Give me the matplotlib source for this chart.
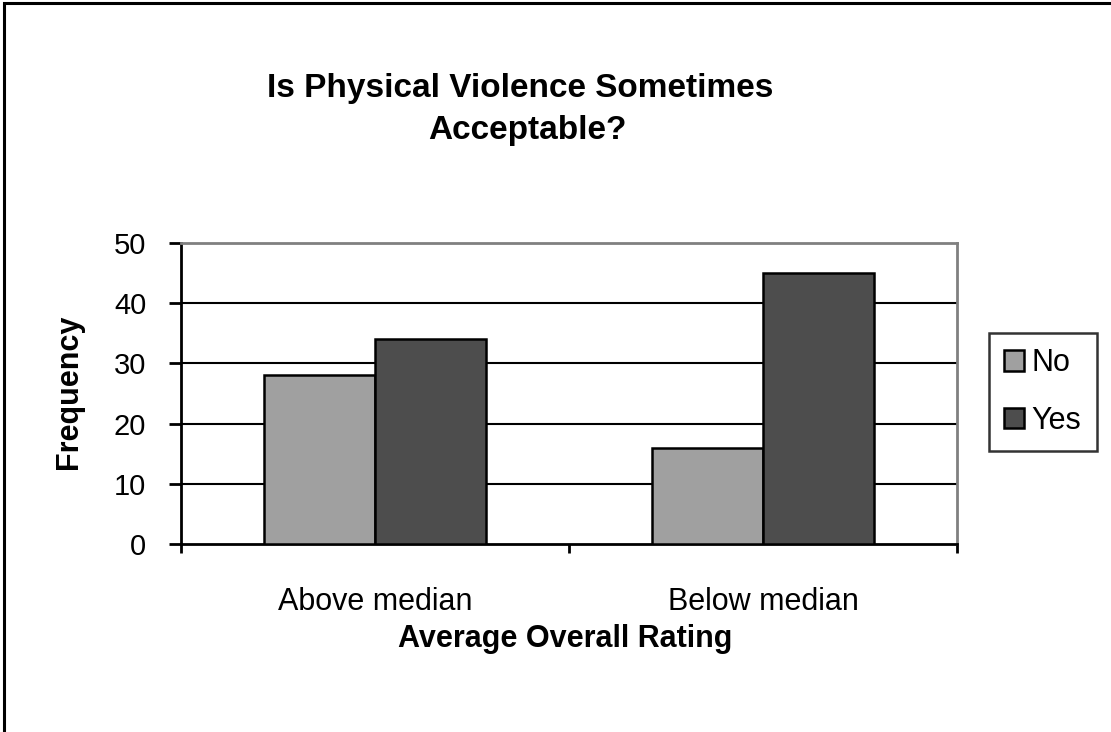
import numpy as np
import matplotlib
matplotlib.use('Agg')
import matplotlib.pyplot as plt
from matplotlib.patches import Rectangle

plt.rcParams['font.family'] = ['Liberation Sans', 'DejaVu Sans']

# data
categories = ['Above median', 'Below median']
series_names = ['No', 'Yes']
no_values = [28, 16]
yes_values = [34, 45]
y_ticks = [0, 10, 20, 30, 40, 50]

fig = plt.figure(figsize=(11.11, 7.32), dpi=100)
fig.patch.set_facecolor('white')

# outer chart frame (clipped at right / bottom like the screenshot)
fig.patches.append(Rectangle((4 / 1111, -0.1), 1.2, (732 - 3) / 732 + 0.1,
                             transform=fig.transFigure, fill=False,
                             edgecolor='black', linewidth=2.2))

ax = fig.add_axes([181 / 1111, 1 - 544 / 732, (957 - 181) / 1111, (544 - 243) / 732])

x = np.arange(len(categories))
w = 0.285
ax.bar(x - w / 2, no_values, w, color='#a0a0a0', edgecolor='black', linewidth=1.8,
       label=series_names[0], zorder=3)
ax.bar(x + w / 2, yes_values, w, color='#4d4d4d', edgecolor='black', linewidth=1.8,
       label=series_names[1], zorder=3)

ax.set_xlim(-0.5, 1.5)
ax.set_ylim(0, 50)
ax.set_yticks(y_ticks)
ax.set_yticklabels([str(t) for t in y_ticks], fontsize=21)
ax.set_xticks(x)
ax.set_xticklabels(categories, fontsize=22)
ax.tick_params(axis='x', length=0, pad=31)
ax.set_xticks([-0.5, 0.5, 1.5], minor=True)
ax.tick_params(axis='x', which='minor', length=6.5, width=2, direction='out')
ax.tick_params(axis='y', length=9, width=2, direction='out', pad=16)

for t in y_ticks[1:-1]:
    ax.axhline(t, color='black', linewidth=1.5, zorder=1)

ax.spines['left'].set_color('black')
ax.spines['left'].set_linewidth(2)
ax.spines['bottom'].set_color('black')
ax.spines['bottom'].set_linewidth(2)
ax.spines['top'].set_color('#808080')
ax.spines['top'].set_linewidth(2)
ax.spines['right'].set_color('#808080')
ax.spines['right'].set_linewidth(2)

ax.set_ylabel('Frequency', fontsize=22, fontweight='bold')
ax.yaxis.set_label_coords(84 / 1111, 1 - 392 / 732, transform=fig.transFigure)
ax.set_xlabel('Average Overall Rating', fontsize=22, fontweight='bold')
ax.xaxis.set_label_coords(565 / 1111, 1 - 624 / 732, transform=fig.transFigure)

fig.text(520 / 1111, 1 - 88 / 732, 'Is Physical Violence Sometimes',
         ha='center', va='center', fontsize=24, fontweight='bold')
fig.text(527 / 1111, 1 - 130 / 732, 'Acceptable?',
         ha='center', va='center', fontsize=24, fontweight='bold')

leg = ax.legend(loc='upper left', bbox_to_anchor=(989 / 1111, 1 - 333 / 732),
                bbox_transform=fig.transFigure, fontsize=22, frameon=True,
                fancybox=False, edgecolor='black', handlelength=0.65, handleheight=0.65,
                handletextpad=0.25, borderpad=0.5, labelspacing=0.9, borderaxespad=0)
leg.get_frame().set_linewidth(1.8)

fig.savefig('out.png', dpi=100)
